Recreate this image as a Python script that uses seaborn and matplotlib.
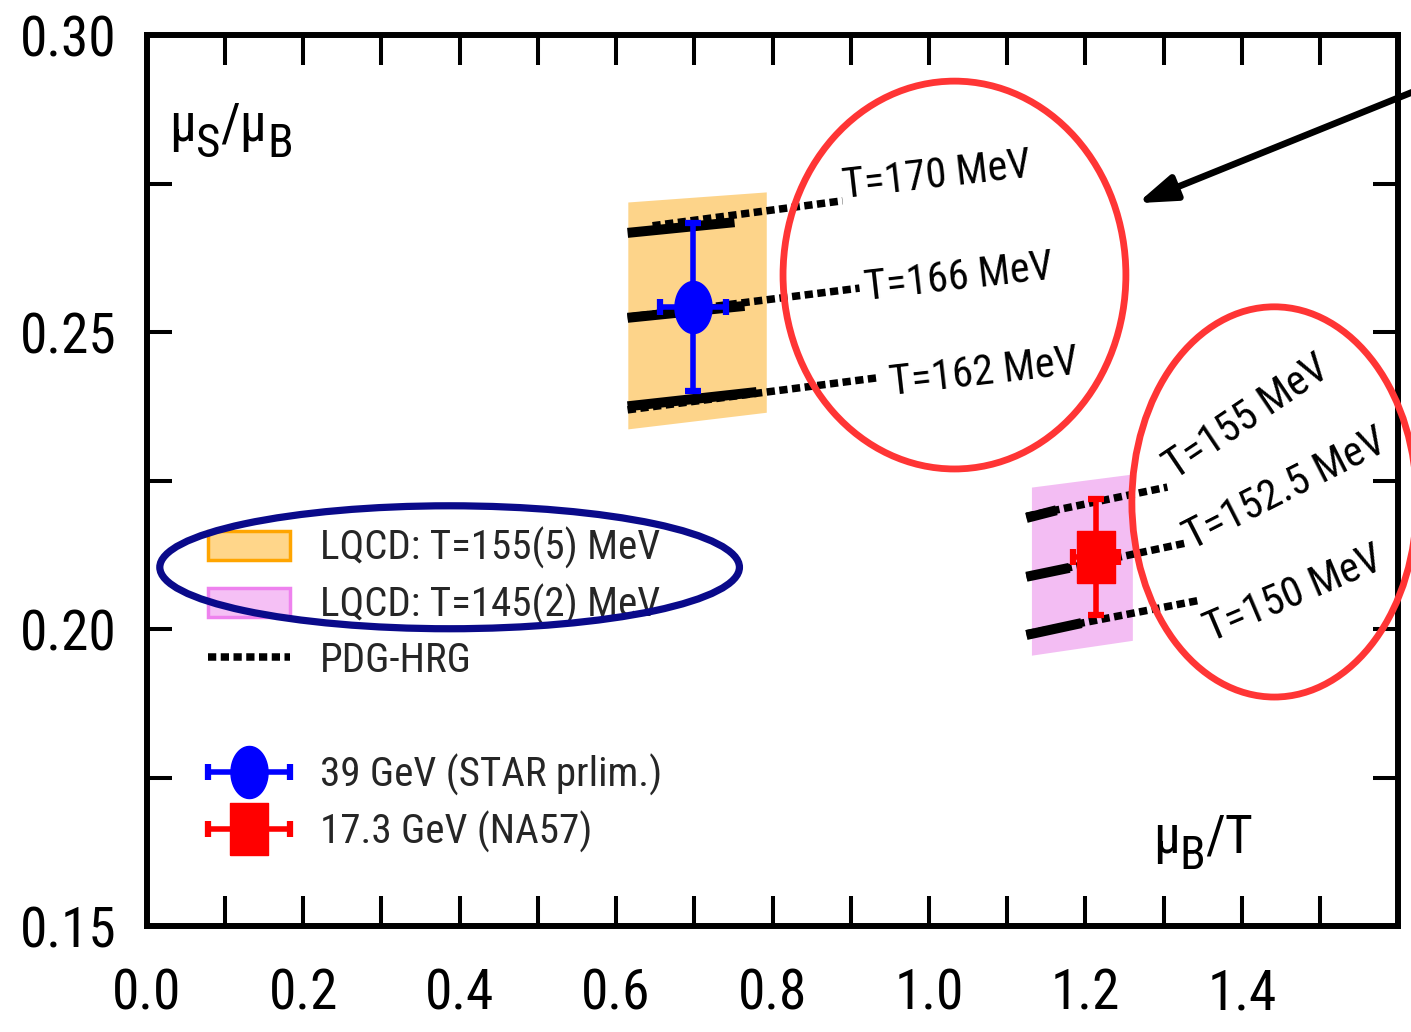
import numpy as np
import pandas as pd
import matplotlib
matplotlib.use("Agg")
import matplotlib.pyplot as plt
import seaborn as sns
from matplotlib import font_manager
from matplotlib.patches import Ellipse, Patch
from matplotlib.lines import Line2D
from matplotlib.path import Path
from matplotlib.legend_handler import HandlerErrorbar

# ---------------- data ----------------
# LQCD bands: x-range with lower / upper edge of mu_S/mu_B
band155_x = [0.615, 0.792]
band155_lo = [0.2337, 0.2365]
band155_hi = [0.2719, 0.2736]
band145_x = [1.131, 1.260]
band145_lo = [0.1956, 0.1981]
band145_hi = [0.2239, 0.2261]

# temperature labels of the HRG curves
curve_labels = ["T=170 MeV", "T=166 MeV", "T=162 MeV",
                "T=155 MeV", "T=152.5 MeV", "T=150 MeV"]

# LQCD (solid) segments
lq_x0 = [0.6147, 0.6147, 0.6147, 1.1246, 1.1246, 1.1246]
lq_y0 = [0.2667, 0.2524, 0.2375, 0.2187, 0.2088, 0.1990]
lq_x1 = [0.7514, 0.7642, 0.7796, 1.1629, 1.1795, 1.1949]
lq_y1 = [0.2685, 0.2544, 0.2399, 0.2200, 0.2103, 0.2010]

# PDG-HRG (dotted) curves
hrg_x0 = [0.6467, 0.6147, 0.6147, 1.1246, 1.1246, 1.1246]
hrg_y0 = [0.2679, 0.2525, 0.2369, 0.2190, 0.2088, 0.1992]
hrg_x1 = [0.8895, 0.9112, 0.9342, 1.3048, 1.3291, 1.3482]
hrg_y1 = [0.2721, 0.2574, 0.2423, 0.2239, 0.2145, 0.2049]

# label anchors and angles
lab_x = [0.892, 0.920, 0.951, 1.314, 1.336, 1.361]
lab_y = [0.2726, 0.2554, 0.2394, 0.2251, 0.2133, 0.1978]
lab_rot = [6.5, 6.5, 6.5, 34.0, 27.0, 23.0]

# measurements
star_x, star_y = [0.698], [0.2542]
star_xerr, star_yerr = [0.042], [0.0142]
na57_x, na57_y = [1.213], [0.2121]
na57_xerr, na57_yerr = [0.029], [0.0098]

legend1_labels = ["LQCD: T=155(5) MeV", "LQCD: T=145(2) MeV", "PDG-HRG"]
legend2_labels = ["39 GeV (STAR prlim.)", "17.3 GeV (NA57)"]

xticks = [0.0, 0.2, 0.4, 0.6, 0.8, 1.0, 1.2, 1.4]
xminor = [0.1, 0.3, 0.5, 0.7, 0.9, 1.1, 1.3, 1.5]
yticks = [0.15, 0.20, 0.25, 0.30]
yminor = [0.175, 0.225, 0.275]

# ---------------- style ----------------
sns.set_theme(style="ticks")
installed = {f.name for f in font_manager.fontManager.ttflist}
base_font = "Liberation Sans"
for cand in ["Liberation Sans Narrow", "Roboto Condensed", "Open Sans Condensed",
             "Noto Sans Condensed", "Liberation Sans"]:
    if cand in installed:
        base_font = cand
        break
plt.rcParams["font.family"] = [base_font, "DejaVu Sans"]
plt.rcParams["axes.edgecolor"] = "black"
plt.rcParams["xtick.color"] = "black"
plt.rcParams["ytick.color"] = "black"

fig = plt.figure(figsize=(14.11, 10.32), dpi=100)
renderer = fig.canvas.get_renderer()
PX = fig.dpi / 72.0


def text_box(s, size):
    t = fig.text(0, 0, s, fontsize=size)
    bb = t.get_window_extent(renderer)
    t.remove()
    return bb.width, bb.height


def fit_size(s, target_px, stretch=1.04):
    w, _ = text_box(s, 40)
    return 40 * target_px / w * stretch


fs_tick = fit_size("0.30", 93)
fs_curve = fit_size("T=170 MeV", 182)
fs_leg = fit_size("LQCD: T=155(5) MeV", 340, 1.0)
fs_axis = fit_size("μS/μB", 125)

ax = fig.add_axes([0.104, 0.1027, 0.887, 0.8633])
ax.set_xlim(0, 1.6)
ax.set_ylim(0.15, 0.30)

# bands
ax.fill_between(band155_x, band155_lo, band155_hi, color="#FDD48A", lw=0, zorder=1)
ax.fill_between(band145_x, band145_lo, band145_hi, color="#F3BDF3", lw=0, zorder=1)

# curves
rows = []
for i in range(len(curve_labels)):
    rows.append(dict(curve=i, x=hrg_x0[i], y=hrg_y0[i], kind="hrg"))
    rows.append(dict(curve=i, x=hrg_x1[i], y=hrg_y1[i], kind="hrg"))
    rows.append(dict(curve=i, x=lq_x0[i], y=lq_y0[i], kind="lqcd"))
    rows.append(dict(curve=i, x=lq_x1[i], y=lq_y1[i], kind="lqcd"))
curves = pd.DataFrame(rows)

DOT = (0, (1.1, 0.6))
sns.lineplot(data=curves[curves.kind == "hrg"], x="x", y="y", units="curve",
             estimator=None, color="black", linewidth=5.4, linestyle=DOT,
             ax=ax, zorder=3, legend=False)
sns.lineplot(data=curves[curves.kind == "lqcd"], x="x", y="y", units="curve",
             estimator=None, color="black", linewidth=7.2, solid_capstyle="butt",
             ax=ax, zorder=3, legend=False)

for txt, x, y, r in zip(curve_labels, lab_x, lab_y, lab_rot):
    ax.text(x, y, txt, rotation=r, rotation_mode="anchor", ha="left", va="baseline",
            fontsize=fs_curve, color="black", zorder=4)

# markers
t = np.linspace(0, 2 * np.pi, 73)
ellipse_marker = Path(np.column_stack([0.356 * np.cos(t), 0.5 * np.sin(t)]))
rect_marker = Path([(-0.356, -0.5), (0.356, -0.5), (0.356, 0.5), (-0.356, 0.5), (-0.356, -0.5)])

eb_kw = dict(linestyle="none", elinewidth=4.0, capsize=6.0, capthick=4.5, ms=37.5, zorder=5)
ax.errorbar(star_x, star_y, xerr=star_xerr, yerr=star_yerr, marker=ellipse_marker,
            color="#0000FF", mec="#0000FF", **eb_kw)
ax.errorbar(na57_x, na57_y, xerr=na57_xerr, yerr=na57_yerr, marker=rect_marker,
            color="#FF0000", mec="#FF0000", **eb_kw)

# axes frame & ticks
for s in ax.spines.values():
    s.set_linewidth(4.3)
    s.set_color("black")
ax.set_xticks(xticks)
ax.set_xticks(xminor, minor=True)
ax.set_xticklabels([f"{v:.1f}" for v in xticks])
ax.set_yticks(yticks)
ax.set_yticks(yminor, minor=True)
ax.set_yticklabels([f"{v:.2f}" for v in yticks])
ax.tick_params(which="both", direction="in", top=True, right=True, width=2.9)
ax.tick_params(axis="x", which="both", length=21.5)
ax.tick_params(axis="y", which="both", length=18)
ax.tick_params(axis="x", which="major", pad=30, labelsize=fs_tick)
ax.tick_params(axis="y", which="major", pad=22, labelsize=fs_tick)
ax.set_xlabel("")
ax.set_ylabel("")

# legends: row pitch of 57 px
_, row_h = text_box("LQCD: T=155(5) MeV", fs_leg)
fs_leg_px = fs_leg * PX
spacing = (57 - row_h) / fs_leg_px
ax_h_px = 0.8633 * fig.get_figheight() * fig.dpi


def top_anchor(first_row_center_px):
    top_px = first_row_center_px - row_h / 2
    return (926 - top_px) / ax_h_px


h_orange = Patch(facecolor="#FFD68A", edgecolor="#FFA500", lw=2.5)
h_mag = Patch(facecolor="#F5C0F5", edgecolor="#EE82EE", lw=2.5)
h_hrg = Line2D([], [], color="black", lw=5.4, linestyle=DOT)
leg_kw = dict(frameon=False, fontsize=fs_leg, handlelength=82 / fs_leg_px,
              handleheight=30 / fs_leg_px, handletextpad=30 / fs_leg_px,
              labelspacing=spacing, borderaxespad=0, borderpad=0, loc="upper left")
hx = (208 - 147) / 1251
leg1 = ax.legend([h_orange, h_mag, h_hrg], legend1_labels,
                 bbox_to_anchor=(hx, top_anchor(548)), **leg_kw)
ax.add_artist(leg1)

p1 = ax.errorbar([np.nan], [np.nan], xerr=[0.04], marker=ellipse_marker, color="#0000FF",
                 mec="#0000FF", **eb_kw)
p2 = ax.errorbar([np.nan], [np.nan], xerr=[0.04], marker=rect_marker, color="#FF0000",
                 mec="#FF0000", **eb_kw)
half = 41 / fs_leg_px
leg2 = ax.legend([p1, p2], legend2_labels, numpoints=1,
                 handler_map={p1: HandlerErrorbar(xerr_size=half),
                              p2: HandlerErrorbar(xerr_size=half)},
                 bbox_to_anchor=(hx, top_anchor(775)), **leg_kw)


# axis titles drawn inside the frame, with subscripts
def chain_text(x, y, pieces):
    off = 0.0
    for s, size, dy in pieces:
        a = ax.annotate(s, xy=(x, y), xycoords="data", xytext=(off, dy),
                        textcoords="offset points", fontsize=size, ha="left",
                        va="baseline", color="black", zorder=6)
        off += a.get_window_extent(renderer).width / PX


sub = fs_axis * 0.88
drop = -0.3 * fs_axis
chain_text(0.029, 0.2822, [("μ", fs_axis, 0), ("S", sub, drop), ("/μ", fs_axis, 0), ("B", sub, drop)])
chain_text(1.286, 0.1623, [("μ", fs_axis, 0), ("B", sub, drop), ("/T", fs_axis, 0)])

# highlight rings and arrow
ax.add_patch(Ellipse((1.0326, 0.2596), 0.4383, 0.0653, fill=False, ec="#FF3535",
                     lw=4.9, clip_on=False, zorder=10))
ax.add_patch(Ellipse((1.4415, 0.2214), 0.3642, 0.0657, fill=False, ec="#FF3535",
                     lw=4.9, clip_on=False, zorder=10))
ax.add_patch(Ellipse((0.3872, 0.2104), 0.741, 0.0207, fill=False, ec="#0A0A8A",
                     lw=5.2, clip_on=False, zorder=10))
ax.annotate("", xy=(1.2665, 0.2717), xytext=(1.665, 0.2929),
            arrowprops=dict(arrowstyle="-|>,head_length=1.9,head_width=0.65",
                            lw=4.8, color="black", shrinkA=0, shrinkB=0),
            annotation_clip=False, zorder=10)

fig.savefig("out.png", dpi=100)
